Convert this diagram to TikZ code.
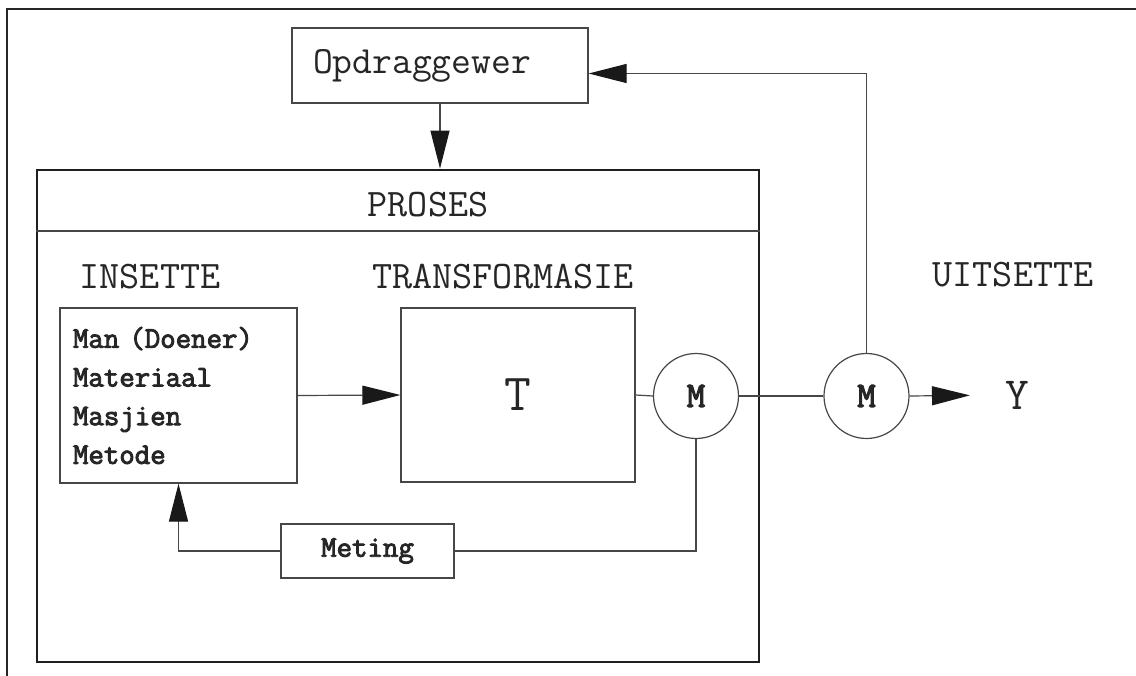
\documentclass[tikz,border=0pt]{standalone}
\usepackage{fontspec}
\newfontfamily\cour{Latin Modern Mono}[AutoFakeBold=3]
\usetikzlibrary{arrows.meta}
\newcommand\fsz[1]{\fontsize{#1}{#1}\selectfont}
\begin{document}
\begin{tikzpicture}[x=1pt,y=-1pt,
  ln/.style={draw=black!72, line width=1.2pt},
  box/.style={ln, rectangle, inner sep=0pt},
  arr/.style={ln, -{Triangle[length=38pt,width=19pt,color=black!90,fill=black!90]}},
  hd/.style={text=black!85, font=\cour\fsz{39}},
  bold/.style={text=black!85, font=\cour\bfseries\fsz{30}}]

% page and frame
\useasboundingbox (0,0) rectangle (1136,676);
\fill[white] (0,0) rectangle (1136,676);
\draw[line width=2.5pt, black!85] (7,676) -- (7,9) -- (1136,9);

% client
\node[box, minimum width=296pt, minimum height=75pt, text width=254pt,
      inner xsep=21pt, align=left, text=black!85, font=\cour\fsz{38.5}]
      (opd) at (440,65.5) {Opdraggewer};

% process frame with header strip
\node[draw=black!88, line width=2.8pt, minimum width=722pt, minimum height=492pt,
      inner sep=0pt] (proses) at (398,416) {};
\coordinate (hdr) at (0,231);
\draw[ln] (proses.west |- hdr) -- (proses.east |- hdr);
\node[hd] (tproses) at (428,205) {PROSES};

% column headings
\node[hd] (tins) at (150,277) {INSETTE};
\node[hd] (ttrans) at (503,277) {TRANSFORMASIE};
\node[hd] (tuit) at (1013,275) {UITSETTE};

% inputs
\node[box, minimum width=237pt, minimum height=175pt, text width=211pt,
      inner xsep=13pt, align=left, text=black!85,
      font=\cour\bfseries\fontsize{30}{38.7}\selectfont]
      (ins) at (178.5,395.5) {Man (Doener)\\Materiaal\\Masjien\\Metode};

% transformation
\node[box, minimum width=234pt, minimum height=174pt, text=black!85,
      font=\cour\fsz{52}] (tb) at (518,395) {T};

% measuring points
\node[circle, ln, minimum size=85pt, inner sep=0pt, bold, font=\cour\bfseries\fsz{36}]
      (m1) at (696,396) {M};
\node[circle, ln, minimum size=85pt, inner sep=0pt, bold, font=\cour\bfseries\fsz{36}]
      (m2) at (866.5,396) {M};

% measurement
\node[box, minimum width=173pt, minimum height=54pt, bold] (met) at (367.5,551) {Meting};

% output
\node[inner sep=0pt, text=black!85, font=\cour\fsz{46}] (yout) at (1017,395) {Y};

% connectors
\draw[arr] (opd.south) -- (opd.south |- proses.north);
\draw[arr] (ins.east) -- (tb.west);
\draw[ln] (tb.east) -- (m1.west);
\draw[ln] (m1.east) -- (m2.west);
\draw[arr, shorten >=35pt] (m2.east) -- (yout.west);
\draw[arr] (m2.north) |- ([yshift=-8pt]opd.east);
\draw[ln] (m1.south) |- (met.east);
\draw[arr] (met.west) -| (ins.south);
\end{tikzpicture}
\end{document}
